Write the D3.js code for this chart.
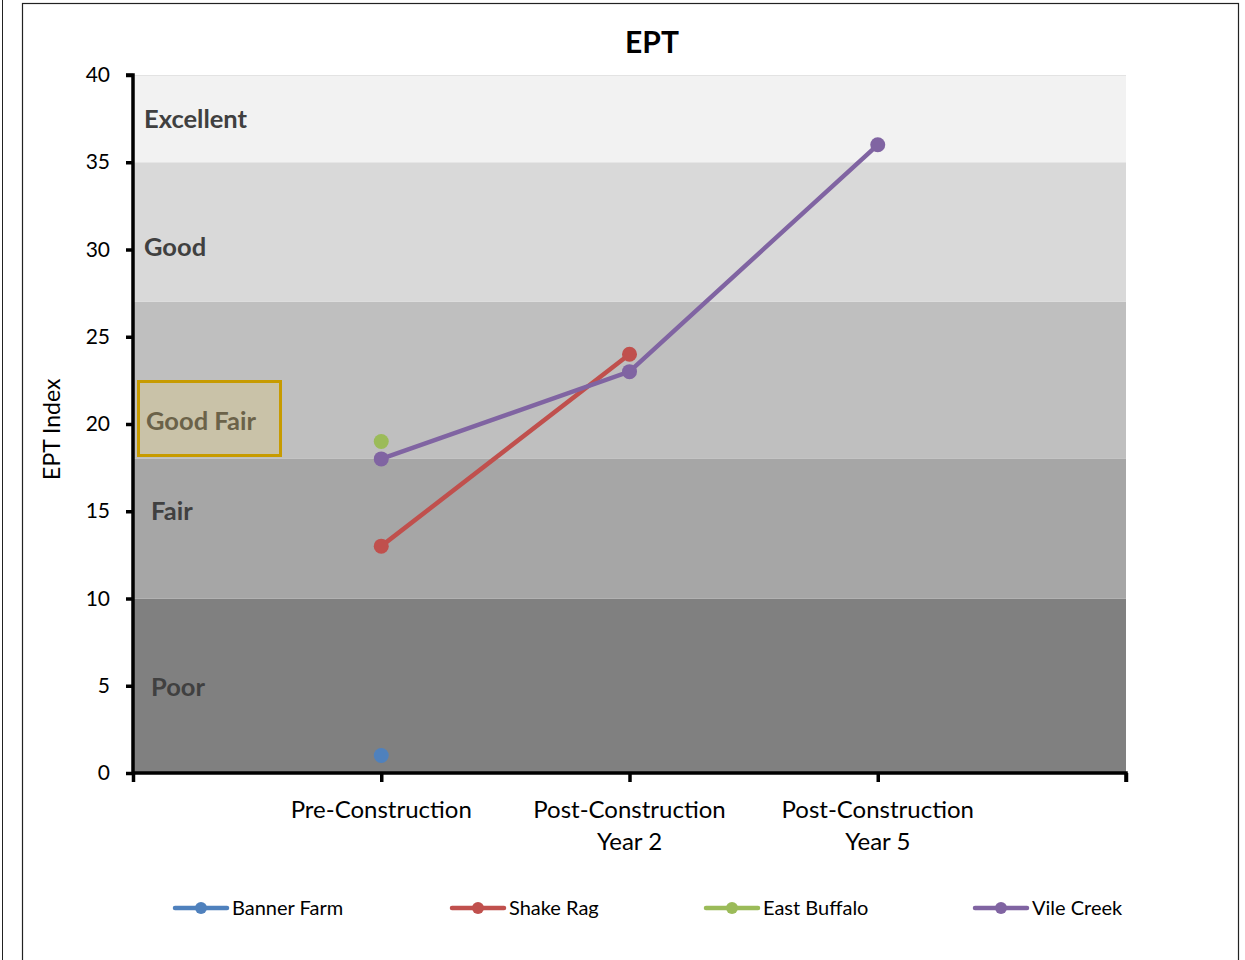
<!DOCTYPE html>
<html>
<head>
<meta charset="utf-8">
<script src="https://cdn.jsdelivr.net/npm/d3@7"></script>
<style>
  html, body { margin: 0; padding: 0; background: #fff; }
  svg { display: block; font-family: Lato, "Open Sans", sans-serif; }
</style>
</head>
<body>
<svg id="chart" width="1245" height="960"></svg>
<script>
// Sampling periods along the x axis (positions 1..3 on a 0..4 scale)
const periods = ["Pre-Construction", "Post-Construction\nYear 2", "Post-Construction\nYear 5"];

// EPT index per site; null where a period was not sampled
const bannerFarm  = [1, null, null];
const shakeRag    = [13, 24, null];
const eastBuffalo = [19, null, null];
const vileCreek   = [18, 23, 36];

const seriesNames  = ["Banner Farm", "Shake Rag", "East Buffalo", "Vile Creek"];
const seriesValues = [bannerFarm, shakeRag, eastBuffalo, vileCreek];
const seriesColors = ["#4f81bd", "#c0504d", "#9bbb59", "#8064a2"];

// Condition bands (EPT index ranges)
const bandNames  = ["Poor", "Fair", "Good Fair", "Good", "Excellent"];
const bandLow    = [0, 10, 18, 27, 35];
const bandHigh   = [10, 18, 27, 35, 40];
const bandFills  = ["#808080", "#a6a6a6", "#bfbfbf", "#d9d9d9", "#f2f2f2"];

const yTicks = [0, 5, 10, 15, 20, 25, 30, 35, 40];

const svg = d3.select("#chart");

// Outer frame lines
svg.append("line").attr("x1", 2.5).attr("x2", 2.5).attr("y1", 0).attr("y2", 960)
  .attr("stroke", "#222").attr("stroke-width", 1);
svg.append("rect").attr("x", 22.5).attr("y", 3.5).attr("width", 1216).attr("height", 970)
  .attr("fill", "#fff").attr("stroke", "#222").attr("stroke-width", 1.2);

const plot = { left: 133, right: 1126, top: 75, bottom: 773 };

const x = d3.scaleLinear().domain([0, 4]).range([plot.left, plot.right]);
const y = d3.scaleLinear().domain([0, 40]).range([plot.bottom, plot.top]);

// Background bands
const bands = svg.append("g");
bandNames.forEach((name, i) => {
  bands.append("rect")
    .attr("x", plot.left)
    .attr("width", plot.right - plot.left)
    .attr("y", y(bandHigh[i]))
    .attr("height", y(bandLow[i]) - y(bandHigh[i]))
    .attr("fill", bandFills[i]);
});
svg.append("line").attr("x1", plot.left).attr("x2", plot.right)
  .attr("y1", y(40) + 0.5).attr("y2", y(40) + 0.5)
  .attr("stroke", "#e3e3e3").attr("stroke-width", 1);

// Band labels
const labelStyle = (sel) => sel.attr("font-size", 25.5).attr("font-weight", "bold").attr("fill", "#404040");
svg.append("text").attr("x", 144).attr("y", y(37.5) + 9).text("Excellent").call(labelStyle);
svg.append("text").attr("x", 144).attr("y", y(30.15) + 9).text("Good").call(labelStyle);
svg.append("text").attr("x", 151).attr("y", y(15) + 9).text("Fair").call(labelStyle);
svg.append("text").attr("x", 151).attr("y", y(4.9) + 9).text("Poor").call(labelStyle);

// Highlighted "Good Fair" label box
svg.append("rect").attr("x", 138.5).attr("y", 381.5).attr("width", 142).attr("height", 74)
  .attr("fill", "#c9c2a8").attr("stroke", "#c79b00").attr("stroke-width", 3);
svg.append("text").attr("x", 146).attr("y", y(20.15) + 9).text("Good Fair")
  .call(labelStyle).attr("fill", "#6b6249");

// Axes
const yAxis = svg.append("g")
  .attr("transform", `translate(${plot.left},0)`)
  .call(d3.axisLeft(y).tickValues(yTicks).tickSize(7).tickPadding(16));
const xAxis = svg.append("g")
  .attr("transform", `translate(0,${plot.bottom})`)
  .call(d3.axisBottom(x).tickValues([0, 1, 2, 3, 4]).tickSize(9).tickFormat(""));

[yAxis, xAxis].forEach(g => {
  g.select(".domain").attr("stroke", "#000").attr("stroke-width", 3.5);
  g.selectAll(".tick line").attr("stroke", "#000").attr("stroke-width", 3.5);
});
// square off the outer ticks at the axis ends
yAxis.select(".domain").attr("d", `M-7,${y(40)}H0V${y(0)}`);
xAxis.select(".domain").attr("d", `M${x(0)},0H${x(4)}V9`);

yAxis.selectAll(".tick text").attr("font-size", 21).attr("fill", "#000")
  .attr("font-family", "Lato, 'Open Sans', sans-serif");

// Category labels (two lines where needed)
periods.forEach((p, i) => {
  const t = svg.append("text")
    .attr("x", x(i + 1))
    .attr("y", 818)
    .attr("text-anchor", "middle")
    .attr("font-size", 24)
    .attr("fill", "#000");
  p.split("\n").forEach((line, j) => {
    t.append("tspan").attr("x", x(i + 1)).attr("dy", j === 0 ? 0 : 32).text(line);
  });
});

// Title and y-axis title
svg.append("text").attr("x", 652).attr("y", 53).attr("text-anchor", "middle")
  .attr("font-size", 30).attr("font-weight", "bold").attr("fill", "#000").text("EPT");
svg.append("text")
  .attr("transform", `translate(60,${y(19.7)}) rotate(-90)`)
  .attr("text-anchor", "middle").attr("font-size", 23).attr("fill", "#000").text("EPT Index");

// Series lines and markers
const line = d3.line()
  .defined(d => d.v !== null)
  .x(d => x(d.i + 1))
  .y(d => y(d.v));

seriesValues.forEach((vals, s) => {
  const pts = vals.map((v, i) => ({ i, v }));
  svg.append("path")
    .datum(pts)
    .attr("d", line)
    .attr("fill", "none")
    .attr("stroke", seriesColors[s])
    .attr("stroke-width", 4.5)
    .attr("stroke-linecap", "round");
  svg.append("g").selectAll("circle")
    .data(pts.filter(d => d.v !== null))
    .join("circle")
    .attr("cx", d => x(d.i + 1))
    .attr("cy", d => y(d.v))
    .attr("r", 7.5)
    .attr("fill", seriesColors[s]);
});

// Legend
const legendX = [173, 450, 704, 973];
const legendY = 908;
seriesNames.forEach((name, s) => {
  const g = svg.append("g").attr("transform", `translate(${legendX[s]},${legendY})`);
  g.append("line").attr("x1", 2).attr("x2", 54).attr("y1", 0).attr("y2", 0)
    .attr("stroke", seriesColors[s]).attr("stroke-width", 4.5).attr("stroke-linecap", "round");
  g.append("circle").attr("cx", 28).attr("cy", 0).attr("r", 6).attr("fill", seriesColors[s]);
  g.append("text").attr("x", 59).attr("y", 7).attr("font-size", 20).attr("fill", "#000").text(name);
});
</script>
</body>
</html>
